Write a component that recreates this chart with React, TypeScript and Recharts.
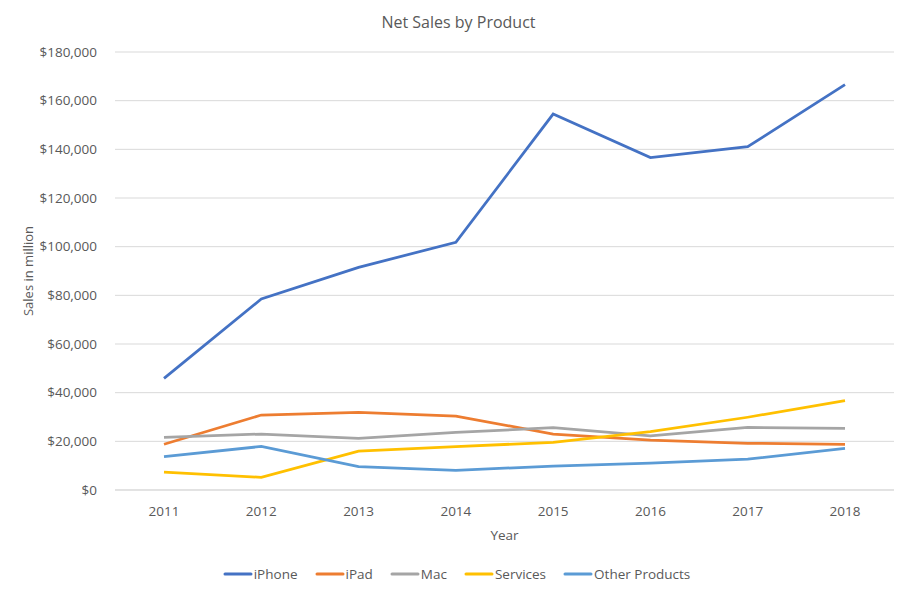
import React from "react";
import { LineChart, Line, XAxis, YAxis, CartesianGrid, Legend } from "recharts";

const years = ["2011", "2012", "2013", "2014", "2015", "2016", "2017", "2018"];
const iPhone = [45900, 78500, 91500, 101800, 154500, 136600, 141100, 166600];
const iPad = [18800, 30800, 31900, 30400, 23000, 20500, 19200, 18800];
const mac = [21600, 23000, 21200, 23700, 25600, 22200, 25700, 25300];
const services = [7300, 5200, 16000, 17800, 19600, 24000, 29900, 36700];
const other = [13700, 17900, 9600, 8100, 9800, 11000, 12700, 17100];
const yTicks = [0, 20000, 40000, 60000, 80000, 100000, 120000, 140000, 160000, 180000];

const series = [
  { key: "iPhone", name: "iPhone", values: iPhone, color: "#4472C4" },
  { key: "iPad", name: "iPad", values: iPad, color: "#ED7D31" },
  { key: "Mac", name: "Mac", values: mac, color: "#A5A5A5" },
  { key: "Services", name: "Services", values: services, color: "#FFC000" },
  { key: "Other", name: "Other Products", values: other, color: "#5B9BD5" },
];

const data = years.map((y, i) => {
  const row: Record<string, any> = { year: y };
  series.forEach((s) => (row[s.key] = s.values[i]));
  return row;
});

const FONT = "'Open Sans', 'Noto Sans', sans-serif";
const TEXT = "#595959";

const LegendContent = () => (
  <div
    style={{
      display: "flex",
      justifyContent: "center",
      alignItems: "center",
      fontFamily: FONT,
      fontSize: 13.5,
      color: TEXT,
      height: 20,
      paddingLeft: 4,
    }}
  >
    {series.map((s, i) => (
      <div
        key={s.key}
        style={{ display: "flex", alignItems: "center", marginRight: i === series.length - 1 ? 0 : 17 }}
      >
        <svg width={30} height={6} style={{ marginRight: 1 }}>
          <line x1={2} y1={3} x2={28} y2={3} stroke={s.color} strokeWidth={3} strokeLinecap="round" />
        </svg>
        <span>{s.name}</span>
      </div>
    ))}
  </div>
);

export default function App() {
  return (
    <div style={{ position: "absolute", left: 0, top: 0, width: 909, height: 596, background: "#fff" }}>
      <div
        style={{
          position: "absolute",
          top: 11,
          left: 0,
          width: 909,
          textAlign: "center",
          fontFamily: FONT,
          fontSize: 16,
          color: TEXT,
          paddingLeft: 8,
          boxSizing: "border-box",
        }}
      >
        Net Sales by Product
      </div>
      <LineChart
        width={909}
        height={596}
        data={data}
        margin={{ top: 52, right: 15, bottom: 36, left: 0 }}
      >
        <CartesianGrid vertical={false} stroke="#d9d9d9" strokeWidth={1} />
        <XAxis
          dataKey="year"
          axisLine={{ stroke: "#d9d9d9" }}
          tickLine={false}
          height={50}
          tickMargin={10}
          padding={{ left: 49, right: 49 }}
          tick={{ fill: TEXT, fontSize: 13.5, fontFamily: FONT }}
          label={{
            value: "Year",
            position: "insideBottom",
            offset: 0,
            fill: TEXT,
            fontSize: 13.5,
            fontFamily: FONT,
          }}
        />
        <YAxis
          width={115}
          domain={[0, 180000]}
          ticks={yTicks}
          axisLine={false}
          tickLine={false}
          tickMargin={12}
          tickFormatter={(v: number) => "$" + v.toLocaleString("en-US")}
          tick={{ fill: TEXT, fontSize: 13.5, fontFamily: FONT }}
          label={{
            value: "Sales in million",
            angle: -90,
            position: "insideLeft",
            offset: 28,
            fill: TEXT,
            fontSize: 13,
            fontFamily: FONT,
            style: { textAnchor: "middle" },
          }}
        />
        {series.map((s) => (
          <Line
            key={s.key}
            type="linear"
            dataKey={s.key}
            name={s.name}
            stroke={s.color}
            strokeWidth={2.75}
            dot={false}
            activeDot={false}
            isAnimationActive={false}
          />
        ))}
        <Legend
          content={<LegendContent />}
          wrapperStyle={{ top: 564, bottom: "auto", left: 0, width: 909, height: 20 }}
        />
      </LineChart>
    </div>
  );
}
